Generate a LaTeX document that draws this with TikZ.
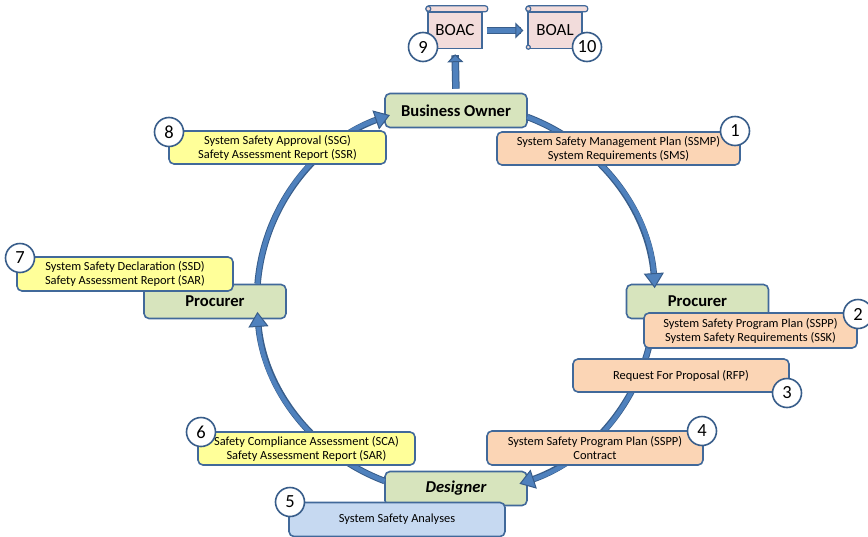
\documentclass[tikz,border=0pt]{standalone}
\usepackage{fontspec}
\setmainfont{Carlito}
\usetikzlibrary{arrows.meta,calc}

\definecolor{arrowfill}{HTML}{4F81BD}
\definecolor{arrowline}{HTML}{385D8A}
\definecolor{boxline}{HTML}{41699A}
\definecolor{rolegreen}{HTML}{D7E4BD}
\definecolor{docorange}{HTML}{FBD5B5}
\definecolor{docyellow}{HTML}{FFFF99}
\definecolor{docblue}{HTML}{C6D9F1}
\definecolor{scrollpink}{HTML}{F2DCDB}

\begin{document}
\begin{tikzpicture}[x=1pt,y=-1pt,
  role/.style={draw=boxline, line width=1.6pt, fill=rolegreen, rounded corners=5pt,
    minimum width=142pt, minimum height=34pt, inner sep=0pt,
    font=\fontsize{16.6}{18}\selectfont\bfseries},
  doc/.style={draw=boxline, line width=1.6pt, rounded corners=5pt,
    minimum width=216pt, minimum height=33pt, inner sep=0pt, align=center,
    font=\fontsize{12.4}{14}\selectfont},
  num/.style={circle, draw=arrowline, line width=1.6pt, fill=white,
    minimum size=29pt, inner sep=0pt, font=\fontsize{18.5}{18.5}\selectfont},
  scrollbody/.style={draw=boxline, line width=1.4pt, fill=scrollpink,
    minimum width=54pt, minimum height=36pt, inner sep=0pt,
    font=\fontsize{17}{17}\selectfont},
  scrollpart/.style={draw=boxline, line width=1.2pt, fill=scrollpink},
  cyclearrow/.style={draw=arrowfill, line width=4.5pt,
    -{Triangle[length=15pt,width=20pt,fill=arrowfill,color=arrowline,line width=1pt]},
    preaction={draw=arrowline, line width=6.5pt, shorten >=10pt, -}},
  blockarrow/.style={draw=arrowfill, line width=5.5pt,
    -{Triangle[length=8pt,width=16pt,fill=arrowfill,color=arrowline,line width=1pt]},
    preaction={draw=arrowline, line width=7.5pt, shorten >=6pt, -}},
]
\useasboundingbox (0,0) rectangle (868,536);

% role boxes
\node[role] (bo) at (456,110.5) {Business Owner};
\node[role] (procR) at (697.5,301.5) {Procurer};
\node[role] (procL) at (215,301.5) {Procurer};
\node[role] (des) at (456,488.5) {\itshape Designer};

% the review cycle
\coordinate (ctr) at (456,299);
\coordinate (s1) at ($(ctr)+(-69:199 and 195)$);
\coordinate (s2) at ($(ctr)+(6:199 and 195)$);
\coordinate (s3) at ($(ctr)+(111:199 and 195)$);
\coordinate (s4) at ($(ctr)+(184.5:199 and 195)$);
\draw[cyclearrow] (s1) arc[start angle=-69, end angle=-3.2, x radius=199, y radius=195];
\draw[cyclearrow] (s2) arc[start angle=6, end angle=71.4, x radius=199, y radius=195];
\draw[cyclearrow] (s3) arc[start angle=111, end angle=176.2, x radius=199, y radius=195];
\draw[cyclearrow] (s4) arc[start angle=184.5, end angle=250.6, x radius=199, y radius=195];

% documents
\node[doc, fill=docorange, minimum width=243pt] (d1) at (618.5,148.5)
  {System Safety Management Plan (SSMP)\\System Requirements (SMS)};
\node[doc, fill=docorange, minimum width=213pt, minimum height=35pt] (d2) at (750.5,330.5)
  {System Safety Program Plan (SSPP)\\System Safety Requirements (SSK)};
\node[doc, fill=docorange] (d3) at (681,375.5) {Request For Proposal (RFP)};
\node[doc, fill=docorange, minimum height=34pt] (d4) at (595,448)
  {System Safety Program Plan (SSPP)\\Contract};
\node[doc, fill=docblue, minimum height=34pt] (d5) at (397,519.5) {System Safety Analyses};
\node[doc, fill=docyellow, minimum width=217pt] (d6) at (306.5,448.5)
  {Safety Compliance Assessment (SCA)\\Safety Assessment Report (SAR)};
\node[doc, fill=docyellow, minimum height=34pt] (d7) at (125,274)
  {System Safety Declaration (SSD)\\Safety Assessment Report (SAR)};
\node[doc, fill=docyellow, minimum width=217pt] (d8) at (277.5,147.5)
  {System Safety Approval (SSG)\\Safety Assessment Report (SSR)};

% scrolls
\node[scrollbody] (boac) at (455,30.5) {BOAC};
\node[scrollbody] (boal) at (555,30.5) {BOAL};
\foreach \s in {boac,boal}{
  \draw[scrollpart, rounded corners=2.5pt] ($(\s.north west)+(-1,-6)$) rectangle ($(\s.north east)+(5,0)$);
  \draw[scrollpart] ($(\s.north west)+(1,-3)$) circle[radius=2.5pt];
  \draw[scrollpart] ($(\s.south west)+(1,-2)$) circle[radius=2pt];
}
\draw[blockarrow, shorten <=4pt, shorten >=5pt] (bo.north) -- (boac.south);
\draw[blockarrow, shorten <=4pt, shorten >=4pt] (boac.east) -- (boal.west);

% step numbers
\node[num] (n1) at (735,131) {1};
\node[num] (n2) at (858,314) {2};
\node[num] (n3) at (787,393) {3};
\node[num] (n4) at (702,431) {4};
\node[num] (n5) at (290,502) {5};
\node[num] (n6) at (201,432) {6};
\node[num] (n7) at (20,258) {7};
\node[num] (n8) at (169,132) {8};
\node[num] (n9) at (423,47) {9};
\node[num] (n10) at (587,47) {10};
\end{tikzpicture}
\end{document}
